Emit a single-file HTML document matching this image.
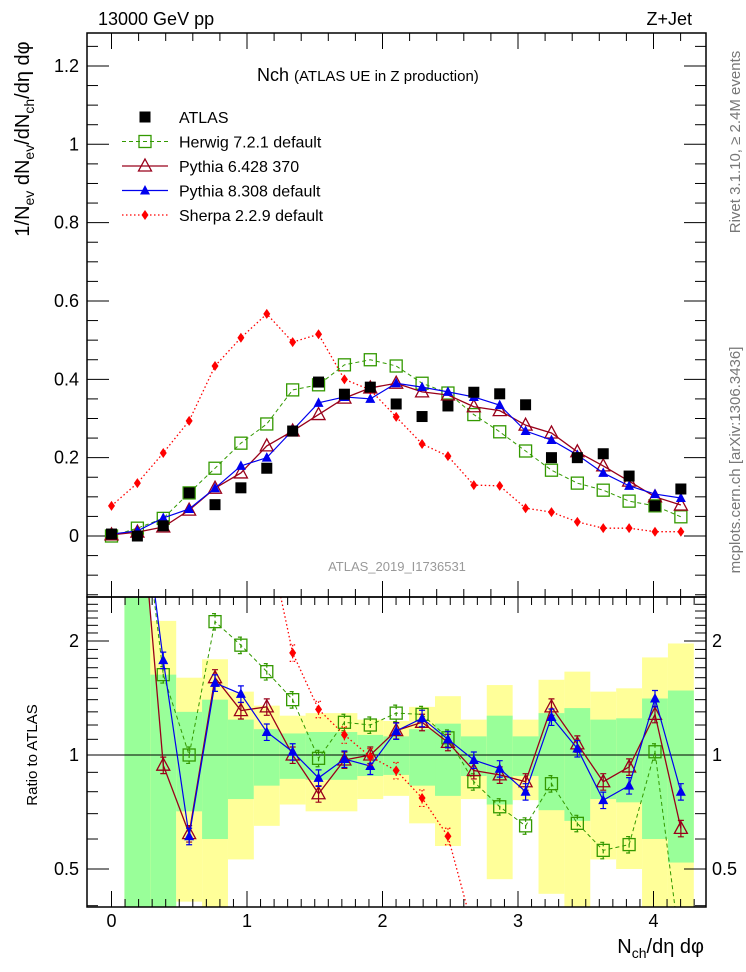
<!DOCTYPE html>
<html><head><meta charset="utf-8"><style>
html,body{margin:0;padding:0;background:#fff;width:746px;height:972px;overflow:hidden;}
svg{display:block;font-family:"Liberation Sans",Arial,sans-serif;}
</style></head><body>
<svg id="chart" width="746" height="972" viewBox="0 0 746 972" xmlns="http://www.w3.org/2000/svg">
<defs>
<clipPath id="clipMain"><rect x="87" y="33" width="619" height="564"/></clipPath>
<clipPath id="clipRatio"><rect x="87" y="597" width="619" height="310"/></clipPath>
</defs>
<g id="bands" clip-path="url(#clipRatio)"></g>
<g id="axes"></g>
<g id="mainMarks" clip-path="url(#clipMain)"></g>
<g id="ratioMarks" clip-path="url(#clipRatio)"></g>
<rect x="87" y="33" width="619" height="564" fill="none" stroke="#000" stroke-width="1.5"/>
<rect x="87" y="597" width="619" height="310" fill="none" stroke="#000" stroke-width="1.5"/>
<text x="98" y="25" font-size="18">13000 GeV pp</text>
<text x="692" y="25" font-size="18" text-anchor="end">Z+Jet</text>
<text x="257" y="81" font-size="18">Nch <tspan font-size="15">(ATLAS UE in Z production)</tspan></text>
<text transform="translate(29,139) rotate(-90)" font-size="20" text-anchor="middle">1/N<tspan font-size="14" dy="5">ev</tspan><tspan dy="-5"> dN</tspan><tspan font-size="14" dy="5">ev</tspan><tspan dy="-5">/dN</tspan><tspan font-size="14" dy="5">ch</tspan><tspan dy="-5">/dη dφ</tspan></text>
<text transform="translate(37,755) rotate(-90)" font-size="15" text-anchor="middle">Ratio to ATLAS</text>
<text x="704" y="953" font-size="20" text-anchor="end">N<tspan font-size="14" dy="5">ch</tspan><tspan dy="-5">/dη dφ</tspan></text>
<text transform="translate(740,142) rotate(-90)" font-size="15" fill="#777" text-anchor="middle">Rivet 3.1.10, ≥ 2.4M events</text>
<text transform="translate(740,460) rotate(-90)" font-size="15" fill="#777" text-anchor="middle">mcplots.cern.ch [arXiv:1306.3436]</text>
<text x="397" y="571" font-size="13" fill="#999" text-anchor="middle">ATLAS_2019_I1736531</text>
<g id="legend"></g>
<script>
// ---- data ----
const binStep = 0.191;
const binIndex = [0,1,2,3,4,5,6,7,8,9,10,11,12,13,14,15,16,17,18,19,20,21,22];
const atlasVals   = [0.005,0.0,0.026,0.11,0.08,0.123,0.173,0.268,0.393,0.362,0.38,0.337,0.305,0.332,0.367,0.363,0.335,0.2,0.2,0.21,0.153,0.077,0.12];
const herwigVals  = [0.0,0.02,0.045,0.11,0.173,0.237,0.286,0.373,0.386,0.437,0.45,0.434,0.39,0.365,0.31,0.266,0.217,0.168,0.135,0.117,0.089,0.077,0.049];
const pythia6Vals = [0.003,0.01,0.023,0.066,0.122,0.161,0.23,0.268,0.31,0.352,0.378,0.39,0.368,0.36,0.33,0.32,0.283,0.263,0.215,0.179,0.14,0.1,0.079];
const pythia8Vals = [0.005,0.013,0.046,0.069,0.122,0.179,0.2,0.27,0.34,0.355,0.35,0.39,0.38,0.368,0.355,0.334,0.268,0.245,0.207,0.161,0.128,0.107,0.097];
const sherpaVals  = [0.077,0.135,0.212,0.294,0.434,0.506,0.567,0.495,0.515,0.4,0.373,0.304,0.235,0.204,0.13,0.128,0.071,0.061,0.036,0.02,0.02,0.011,0.011];
// ratios to ATLAS
const herwigRatio  = [null,6,1.63,1.0,2.25,1.95,1.66,1.4,0.98,1.22,1.2,1.29,1.28,1.11,0.85,0.73,0.65,0.84,0.66,0.56,0.58,1.02,0.3];
const pythia6Ratio = [null,6,0.94,0.62,1.6,1.31,1.34,1.0,0.79,0.97,1.0,1.16,1.22,1.08,0.91,0.886,0.85,1.34,1.07,0.85,0.93,1.28,0.64];
const pythia8Ratio = [null,6,1.78,0.61,1.55,1.45,1.15,1.02,0.87,0.976,0.935,1.157,1.25,1.1,0.97,0.92,0.8,1.26,1.04,0.76,0.83,1.41,0.8];
const sherpaRatio  = [null,null,null,null,null,8,3.9,1.86,1.32,1.13,0.99,0.91,0.77,0.61,0.34,0.2,0.15,0.12,0.1,0.1,0.1,0.1,0.1];
// ATLAS uncertainty bands (ratio units)
const yellowHi = [null,3,2.26,1.6,1.79,1.47,1.35,1.27,1.29,1.29,1.24,1.23,1.34,1.43,1.24,1.53,1.24,1.58,1.66,1.47,1.5,1.81,1.97];
const yellowLo = [null,0.3,0.3,0.41,0.3,0.53,0.65,0.74,0.71,0.71,0.765,0.78,0.66,0.575,0.765,0.47,0.76,0.43,0.3,0.53,0.5,0.3,0.3];
const greenHi  = [null,3,1.63,1.3,1.4,1.24,1.17,1.14,1.15,1.15,1.13,1.12,1.17,1.21,1.12,1.27,1.12,1.29,1.33,1.24,1.25,1.41,1.48];
const greenLo  = [null,0.3,0.3,0.71,0.6,0.765,0.83,0.865,0.86,0.86,0.88,0.886,0.83,0.78,0.88,0.74,0.88,0.715,0.67,0.765,0.75,0.6,0.52];
const ratioErr = 0.05;
const mainXTicks = [0,1,2,3,4];
const mainYTicks = [0,0.2,0.4,0.6,0.8,1,1.2];
const mainYLabels = ["0","0.2","0.4","0.6","0.8","1","1.2"];
const ratioYTicks = [0.5,1,2];
const ratioYLabels = ["0.5","1","2"];

// ---- scales ----
const X = v => 111.5 + v*135.5;
const YM = v => 536 - v*391.7;
const YR = r => 755 - Math.log2(r)*114;
const NS = "http://www.w3.org/2000/svg";
function mk(tag, attrs, parent){const e=document.createElementNS(NS,tag);for(const k in attrs)e.setAttribute(k,attrs[k]);parent.appendChild(e);return e;}
const axes=document.getElementById('axes'), bands=document.getElementById('bands');
const mainG=document.getElementById('mainMarks'), ratioG=document.getElementById('ratioMarks'), legendG=document.getElementById('legend');

// ---- bands ----
binIndex.forEach(i=>{
  if(yellowHi[i]==null) return;
  const x0=X((i-0.5)*binStep), x1=X((i+0.5)*binStep);
  const y=mk('rect',{x:x0,y:YR(yellowHi[i]),width:x1-x0,height:YR(yellowLo[i])-YR(yellowHi[i]),fill:'#ffff99'},bands);
  
  
  const g=mk('rect',{x:x0,y:YR(greenHi[i]),width:x1-x0,height:YR(greenLo[i])-YR(greenHi[i]),fill:'#99ff99'},bands);
  
  
});

// ---- axes ticks ----
for(let k=0;k<=44;k++){
  const v=k*0.1; const x=X(v); if(x>705) break;
  const major = k%10===0;
  mk('line',{x1:x,x2:x,y1:907,y2:907-(major?16:8),stroke:'#000'},axes);
  mk('line',{x1:x,x2:x,y1:597,y2:597+(major?16:8),stroke:'#000'},axes);
  if(k%2===0){
    mk('line',{x1:x,x2:x,y1:33,y2:33+(major?16:8),stroke:'#000'},axes);
    mk('line',{x1:x,x2:x,y1:597,y2:597-(major?16:8),stroke:'#000'},axes);
  }
}
mainXTicks.forEach(v=>{
  const t=mk('text',{x:X(v),y:927,'font-size':18,'text-anchor':'middle'},axes);t.textContent=String(v);
  
  
});
for(let k=-3;k<=25;k++){
  const v=k*0.05; const y=YM(v); if(y<34||y>596) continue;
  const major=k%4===0;
  mk('line',{x1:87,x2:87+(major?22:11),y1:y,y2:y,stroke:'#000'},axes);
  mk('line',{x1:706,x2:706-(major?22:11),y1:y,y2:y,stroke:'#000'},axes);
}
mainYTicks.forEach((v,j)=>{
  const t=mk('text',{x:79,y:YM(v)+6,'font-size':18,'text-anchor':'end'},axes);t.textContent=mainYLabels[j];
  
  
});
const rMinor=[0.4,0.5,0.6,0.7,0.8,0.9,1,1.1,1.2,1.3,1.4,1.5,1.6,1.7,1.8,1.9,2,2.1,2.2,2.3,2.4,2.5,2.6];
rMinor.forEach(r=>{
  const y=YR(r); if(y<598||y>906) return;
  const major=(r===0.5||r===1||r===2);
  mk('line',{x1:87,x2:87+(major?22:11),y1:y,y2:y,stroke:'#000'},axes);
  mk('line',{x1:706,x2:706-(major?22:11),y1:y,y2:y,stroke:'#000'},axes);
});
ratioYTicks.forEach((r,j)=>{
  const t=mk('text',{x:79,y:YR(r)+6,'font-size':18,'text-anchor':'end'},axes);t.textContent=ratioYLabels[j];
  
  
  const t2=mk('text',{x:712,y:YR(r)+6,'font-size':18},axes);t2.textContent=ratioYLabels[j];
  
  
});
const oneLine=mk('line',{x1:87,x2:706,y1:YR(1),y2:YR(1),stroke:'#000','stroke-width':1},ratioG);



// ---- markers ----
function marker(kind,x,y,parent){
  if(kind==='atlas') return mk('rect',{x:x-5.5,y:y-5.5,width:11,height:11,fill:'#000'},parent);
  if(kind==='herwig') return mk('rect',{x:x-6,y:y-6,width:12,height:12,fill:'none',stroke:'#339900','stroke-width':1.3},parent);
  if(kind==='pythia6') return mk('path',{d:`M${x},${y-7} L${x+6.5},${y+5} L${x-6.5},${y+5} Z`,fill:'none',stroke:'#99001a','stroke-width':1.3},parent);
  if(kind==='pythia8') return mk('path',{d:`M${x},${y-5.5} L${x+5},${y+4} L${x-5},${y+4} Z`,fill:'#0000ee'},parent);
  return mk('path',{d:`M${x},${y-5} L${x+3.5},${y} L${x},${y+5} L${x-3.5},${y} Z`,fill:'#ff0000'},parent);
}
const styles={
  herwig:{color:'#339900',dash:'4,3',w:1},
  pythia6:{color:'#99001a',dash:'',w:1.3},
  pythia8:{color:'#0000ee',dash:'',w:1.2},
  sherpa:{color:'#ff0000',dash:'1.5,2.5',w:1.3}
};
function drawSeries(key,vals,ys,parent,nameSuffix,withErr){
  const st=styles[key]; let d='';
  binIndex.forEach(i=>{ if(vals[i]==null) return; const x=X(i*binStep), y=ys(vals[i]); d+=(d?'L':'M')+x+','+y; });
  const p=mk('path',{d:d,fill:'none',stroke:st.color,'stroke-width':st.w,'stroke-dasharray':st.dash},parent);
  
  
  binIndex.forEach(i=>{
    if(vals[i]==null) return;
    const x=X(i*binStep), y=ys(vals[i]);
    if(withErr){
      const y1=ys(vals[i]*(1+ratioErr)), y2=ys(vals[i]*(1-ratioErr));
      mk('path',{d:`M${x},${y1}L${x},${y2}M${x-3},${y1}L${x+3},${y1}M${x-3},${y2}L${x+3},${y2}`,stroke:st.color,'stroke-width':1.2,fill:'none','stroke-dasharray':st.dash},parent);
    }
    const m=marker(key,x,y,parent);
    
    
  });
}
drawSeries('herwig',herwigVals,YM,mainG,'',false);
drawSeries('pythia6',pythia6Vals,YM,mainG,'',false);
drawSeries('pythia8',pythia8Vals,YM,mainG,'',false);
drawSeries('sherpa',sherpaVals,YM,mainG,'',false);
binIndex.forEach(i=>{
  const m=marker('atlas',X(i*binStep),YM(atlasVals[i]),mainG);
  
  
});
drawSeries('herwig',herwigRatio,YR,ratioG,'-ratio',true);
drawSeries('pythia6',pythia6Ratio,YR,ratioG,'-ratio',true);
drawSeries('pythia8',pythia8Ratio,YR,ratioG,'-ratio',true);
drawSeries('sherpa',sherpaRatio,YR,ratioG,'-ratio',true);

// ---- legend ----
const legendNames=['ATLAS','Herwig 7.2.1 default','Pythia 6.428 370','Pythia 8.308 default','Sherpa 2.2.9 default'];
const legendKeys=['atlas','herwig','pythia6','pythia8','sherpa'];
legendKeys.forEach((k,j)=>{
  const y=117+j*24.5;
  const g=mk('g',{},legendG);
  
  
  if(k!=='atlas'){ const st=styles[k]; mk('line',{x1:122,x2:168,y1:y,y2:y,stroke:st.color,'stroke-width':st.w,'stroke-dasharray':st.dash},g); }
  marker(k,145,y,g);
  const t=mk('text',{x:179,y:y+6,'font-size':16},g); t.textContent=legendNames[j];
});
</script>
</svg>
</body></html>
